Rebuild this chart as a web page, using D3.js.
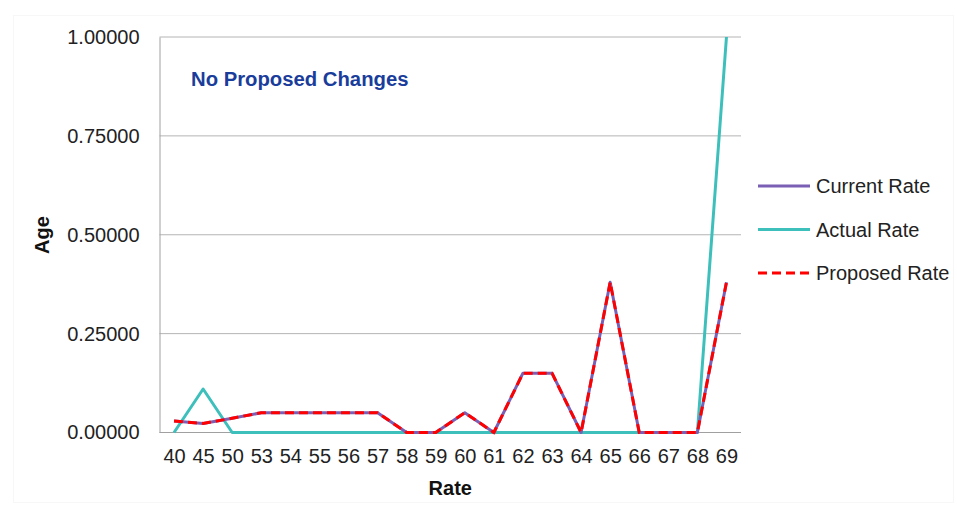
<!DOCTYPE html>
<html><head><meta charset="utf-8">
<script src="https://cdn.jsdelivr.net/npm/d3@7"></script>
<style>body{margin:0;background:#fff}svg{display:block;font-family:"Liberation Sans",Arial,sans-serif}</style>
</head><body><svg id="c" width="957" height="506"></svg>
<script>
const categories = ["40","45","50","53","54","55","56","57","58","59","60","61","62","63","64","65","66","67","68","69"];
const currentRate  = [0.029,0.023,0.036,0.05,0.05,0.05,0.05,0.05,0,0,0.05,0,0.15,0.15,0,0.38,0,0,0,0.38];
const actualRate   = [0,0.11,0,0,0,0,0,0,0,0,0,0,0,0,0,0,0,0,0,1.0];
const proposedRate = [0.029,0.023,0.036,0.05,0.05,0.05,0.05,0.05,0,0,0.05,0,0.15,0.15,0,0.38,0,0,0,0.38];
const yTicks = [0,0.25,0.5,0.75,1.0];
const seriesNames = ["Current Rate","Actual Rate","Proposed Rate"];

const svg = d3.select("#c");
const L = 159.5, R = 741, T = 37, B = 432.5;
const FS = 20;

svg.append("rect").attr("x",13.5).attr("y",15.5).attr("width",940).attr("height",487)
  .attr("fill","none").attr("stroke","#f7f7f7");

const x = d3.scalePoint().domain(categories).range([L, R]).padding(0.5);
const y = d3.scaleLinear().domain([0,1]).range([B, T]);

svg.append("g").selectAll("line").data(yTicks.filter(d=>d>0)).join("line")
  .attr("x1",L).attr("x2",R).attr("y1",d=>y(d)).attr("y2",d=>y(d))
  .attr("stroke","#b4b4b4").attr("stroke-width",1);

const ya = svg.append("g").attr("transform",`translate(${L},0)`)
  .call(d3.axisLeft(y).tickValues(yTicks).tickFormat(d3.format(".5f")).tickSize(0).tickPadding(20));
ya.select(".domain").attr("stroke","#a0a0a0");
ya.selectAll("text").attr("font-size",FS).attr("fill","#222").attr("font-family","Liberation Sans, Arial, sans-serif");

const xa = svg.append("g").attr("transform",`translate(0,${B})`)
  .call(d3.axisBottom(x).tickSize(0).tickPadding(16));
xa.select(".domain").attr("stroke","#a0a0a0").attr("d",`M${L},0H${R}`);
xa.selectAll("text").attr("font-size",FS).attr("fill","#222").attr("font-family","Liberation Sans, Arial, sans-serif");

const line = d3.line().x((d,i)=>x(categories[i])).y(d=>y(d));

svg.append("path").datum(actualRate).attr("d",line).attr("fill","none")
  .attr("stroke","#3dbfbc").attr("stroke-width",3).attr("stroke-linejoin","round");
svg.append("path").datum(currentRate).attr("d",line).attr("fill","none")
  .attr("stroke","#7a5fb5").attr("stroke-width",3).attr("stroke-linejoin","round");
svg.append("path").datum(proposedRate).attr("d",line).attr("fill","none")
  .attr("stroke","#ff0000").attr("stroke-width",3).attr("stroke-dasharray","9,5");

svg.append("text").attr("x",(L+R)/2).attr("y",495).attr("text-anchor","middle")
  .attr("font-size",FS).attr("font-weight","bold").attr("fill","#111").text("Rate");
svg.append("text").attr("transform","translate(49,235) rotate(-90)").attr("text-anchor","middle")
  .attr("font-size",FS).attr("font-weight","bold").attr("fill","#111").text("Age");

svg.append("text").attr("x",191).attr("y",86).attr("font-size",20.3).attr("font-weight","bold")
  .attr("fill","#1a3d9c").text("No Proposed Changes");

const lg = svg.append("g");
const colors = ["#7a5fb5","#3dbfbc","#ff0000"];
const ly = [186, 229.5, 273];
seriesNames.forEach((n,i)=>{
  lg.append("line").attr("x1",758).attr("x2",810).attr("y1",ly[i]).attr("y2",ly[i])
    .attr("stroke",colors[i]).attr("stroke-width",3)
    .attr("stroke-dasharray", i===2 ? "9,5" : null);
  lg.append("text").attr("x",816).attr("y",ly[i]+7).attr("font-size",FS).attr("fill","#222").text(n);
});
</script></body></html>
